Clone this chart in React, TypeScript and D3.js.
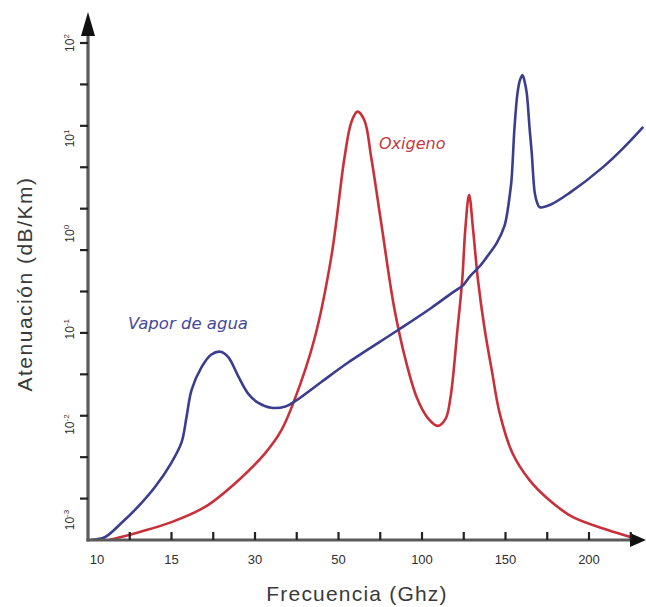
import React from 'react';
import * as d3 from 'd3';

// Axis tick labels (frequency in GHz, nonlinear hand-drawn axis)
const xTickLabels = [10, 15, 30, 50, 100, 150, 200];
const xMinorTicks = [12.5, 15, 22.5, 30, 40, 50, 75, 100, 125, 150, 175, 200, 225];
const yTickExponents = [2, 1, 0, -1, -2, -3];

// Vapor de agua (blue)
const vaporFreq = [10.2, 11.0, 12.0, 13.0, 14.0, 15.0, 16.8, 17.7, 18.6, 20.4, 22.1, 23.8, 25.2, 27.0, 28.8, 30.7, 33.9, 37.3, 39.8, 45.9, 56.0, 85.7, 105.3, 118.0, 124.7, 128.8, 134.7, 140.6, 144.7, 149.4, 151.3, 152.4, 153.6, 155.4, 157.2, 158.7, 160.2, 161.5, 162.7, 164.5, 165.7, 167.5, 169.0, 170.5, 176.5, 188.6, 208.4, 220.5, 232.5];
const vaporAtten = [0.00062, 0.00066, 0.00093, 0.00138, 0.0022, 0.004, 0.0065, 0.012, 0.023, 0.04, 0.054, 0.058, 0.051, 0.032, 0.021, 0.017, 0.015, 0.0155, 0.0178, 0.028, 0.045, 0.098, 0.166, 0.24, 0.29, 0.36, 0.46, 0.63, 0.8, 1.21, 1.77, 2.43, 3.66, 13, 30, 41, 46, 39, 30, 12.3, 7.1, 2.7, 2.1, 1.9, 2.0, 2.7, 5.0, 7.9, 13.2];

// Oxigeno (red)
const oxigenoFreq = [11.3, 11.8, 13.0, 15.0, 21.1, 27.0, 32.4, 36.3, 39.3, 44.2, 48.3, 53.6, 57.7, 61.3, 65.5, 69.6, 75.6, 83.3, 90.5, 97.0, 103.5, 109.4, 114.1, 117.1, 121.2, 124.1, 125.9, 128.2, 130.6, 133.5, 137.6, 141.8, 146.5, 154.2, 164.5, 176.5, 190.4, 210.8, 226.5];
const oxigenoAtten = [0.00062, 0.00065, 0.00074, 0.00095, 0.00138, 0.0026, 0.005, 0.0087, 0.0174, 0.078, 0.58, 6.3, 14.8, 19.1, 15.5, 6.3, 1.29, 0.17, 0.0453, 0.019, 0.0117, 0.0097, 0.0115, 0.0195, 0.098, 0.33, 1.1, 2.57, 1.1, 0.33, 0.098, 0.037, 0.0132, 0.005, 0.0026, 0.0016, 0.00107, 0.00079, 0.00065];

const BLUE = '#3b3d8e';
const RED = '#c8303a';
const AXIS = '#5a5a5a';
const TEXT = '#2e2e2e';
const FONT = '"Liberation Sans", Arial, sans-serif';

export default function App() {
  const W = 646;
  const H = 607;
  const x0 = 88;
  const yBottom = 540;
  const yTop = 43;

  const x = d3
    .scaleLinear()
    .domain(xTickLabels)
    .range(xTickLabels.map((_, i) => x0 + i * 83.5));
  const y = d3.scaleLog().domain([1e-3, 1e2]).range([520, yTop]);

  const line = d3
    .line<[number, number]>()
    .x((d) => x(d[0]))
    .y((d) => y(d[1]))
    .curve(d3.curveCatmullRom.alpha(0.5));

  const vapor: [number, number][] = vaporFreq.map((f, i) => [f, vaporAtten[i]]);
  const oxigeno: [number, number][] = oxigenoFreq.map((f, i) => [f, oxigenoAtten[i]]);

  const yTickPx = d3.range(0, 12).map((k) => yTop + k * ((yBottom - yTop) / 12));

  return (
    <svg
      width={W}
      height={H}
      style={{ position: 'absolute', left: 0, top: 0, background: '#fff' }}
      fontFamily={FONT}
    >
      <rect width={W} height={H} fill="#fff" />
      <defs>
        <clipPath id="plot">
          <rect x={x0} y={0} width={W - x0} height={yBottom} />
        </clipPath>
      </defs>
      {/* curves */}
      <g clipPath="url(#plot)">
        <path d={line(oxigeno) || ''} fill="none" stroke={RED} strokeWidth={2.6} strokeLinejoin="round" />
        <path d={line(vapor) || ''} fill="none" stroke={BLUE} strokeWidth={2.6} strokeLinejoin="round" />
      </g>

      {/* axes */}
      <line x1={x0} y1={30} x2={x0} y2={yBottom + 1.5} stroke={AXIS} strokeWidth={3.2} />
      <line x1={x0 - 1.5} y1={yBottom} x2={636} y2={yBottom} stroke={AXIS} strokeWidth={3.2} />
      <path d={`M${x0},12 L${x0 - 7},36 L${x0 + 7},36 Z`} fill="#111" />
      <path d={`M646,${yBottom} L630,${yBottom - 7} L630,${yBottom + 7} Z`} fill="#111" />

      {/* y ticks */}
      {yTickPx.map((py, i) => (
        <line key={`yt${i}`} x1={x0 - 8} x2={x0} y1={py} y2={py} stroke="#222" strokeWidth={2.2} />
      ))}
      {/* x ticks */}
      {xMinorTicks.map((v, i) => (
        <line key={`xt${i}`} x1={x(v)} x2={x(v)} y1={yBottom - 8} y2={yBottom} stroke="#222" strokeWidth={2.2} />
      ))}

      {/* x tick labels */}
      {xTickLabels.map((v, i) => (
        <text
          key={`xl${i}`}
          x={x(v) + (i === 0 ? 9 : 0)}
          y={564}
          textAnchor="middle"
          fontSize={13}
          fill={TEXT}
        >
          {v}
        </text>
      ))}

      {/* y tick labels */}
      {yTickExponents.map((e, i) => (
        <text
          key={`yl${i}`}
          transform={`translate(74,${y(Math.pow(10, e))}) rotate(-90)`}
          textAnchor="middle"
          fontSize={12}
          fill={TEXT}
        >
          10
          <tspan dy={-5} fontSize={8}>
            {e}
          </tspan>
        </text>
      ))}

      {/* axis titles */}
      <text x={357} y={601} textAnchor="middle" fontSize={21} letterSpacing={1.2} fill="#3a3a3a">
        Frecuencia (Ghz)
      </text>
      <text
        transform={`translate(32,284) rotate(-90)`}
        textAnchor="middle"
        fontSize={21}
        letterSpacing={1.5}
        fill="#3a3a3a"
      >
        Atenuación (dB/Km)
      </text>

      {/* series labels */}
      <text
        x={128}
        y={329}
        fontSize={16.5}
        fontStyle="italic"
        fontFamily='"DejaVu Sans", sans-serif'
        fill="#45479a"
      >
        Vapor de agua
      </text>
      <text
        x={379}
        y={149}
        fontSize={16}
        fontStyle="italic"
        fontFamily='"DejaVu Sans", sans-serif'
        fill="#c23a42"
      >
        Oxigeno
      </text>
    </svg>
  );
}
